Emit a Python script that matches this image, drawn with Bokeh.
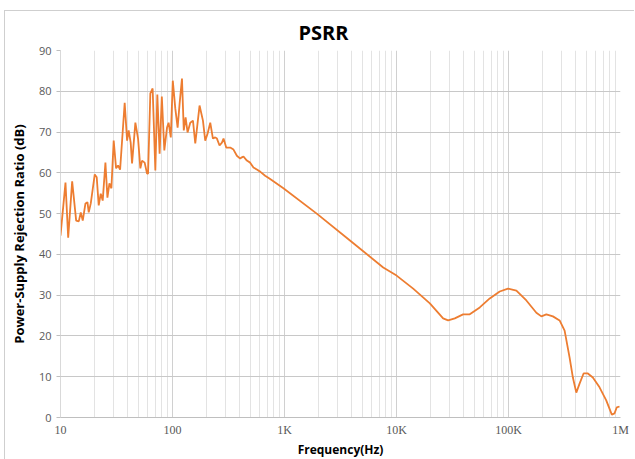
from bokeh.plotting import figure
from bokeh.models import FixedTicker, Range1d, Title
from bokeh.embed import file_html
from bokeh.resources import INLINE

# Frequency (Hz) and PSRR (dB)
freq_hz = [10, 11.08, 11.71, 12.71, 13.80, 14.56, 15.17, 15.80, 16.71, 17.40,
           17.87, 18.63, 20.22, 21.06, 21.94, 22.87, 23.82, 25.18, 26.24, 27.34,
           28.48, 29.85, 31.36, 32.68, 34.05, 37.42, 39.31, 40.62, 42.33, 43.55,
           46.61, 49.27, 51.64, 53.49, 56.41, 59.26, 60.49, 63.41, 66.47, 70.27,
           73.21, 76.74, 80.29, 84.53, 89.34, 92.30, 96.56, 100.6, 105.9, 111.1,
           115.7, 121.5, 126.1, 130.9, 136.3, 144.1, 152.3, 159.7, 174.4, 187.0,
           196.0, 205.5, 217.3, 229.6, 240.7, 249.3, 263.0, 276.3, 285.5, 301.8,
           327.5, 350.4, 375.7, 402.1, 416.3, 430.2, 461.3, 493.6, 528.1, 566.2,
           605.9, 671.6, 733.6, 977.7, 1941, 3843, 7610, 10020, 14090, 19850,
           26080, 28900, 33150, 39320, 45110, 55390, 68000, 83480, 98970, 117600,
           144400, 177300, 196500, 217700, 249300, 286000, 317000, 351200, 375700, 403000,
           431100, 468000, 511100, 566300, 650000, 745800, 836600, 884300, 926800, 979700]
psrr_db = [44.6, 57.6, 44.1, 57.9, 48.3, 48.1, 50.3, 48.3, 52.5, 52.8,
           50.3, 52.5, 59.6, 58.9, 52.0, 54.9, 53.2, 62.5, 53.9, 57.4,
           56.2, 67.9, 61.1, 61.8, 60.8, 77.2, 67.9, 70.4, 67.4, 62.3,
           72.3, 68.4, 61.1, 63.0, 62.5, 59.8, 59.8, 79.5, 80.7, 60.6,
           79.2, 64.7, 78.7, 65.5, 71.1, 72.3, 68.7, 82.6, 75.8, 71.1,
           76.9, 83.1, 70.4, 73.6, 69.9, 72.3, 72.8, 67.2, 76.5, 72.8,
           67.9, 69.6, 72.3, 68.4, 68.7, 68.4, 66.7, 67.4, 68.4, 66.2,
           66.2, 65.7, 64.2, 63.5, 63.8, 64.0, 63.0, 62.5, 61.3, 60.8,
           60.3, 59.3, 58.6, 56.2, 50.0, 43.4, 36.8, 34.8, 31.6, 28.0,
           24.3, 23.8, 24.3, 25.3, 25.3, 27.0, 29.2, 30.9, 31.6, 31.1,
           28.7, 25.7, 24.8, 25.3, 24.8, 23.8, 21.3, 14.7, 9.8, 6.1,
           8.3, 10.8, 10.8, 9.8, 7.4, 4.2, 0.7, 1.0, 2.5, 2.7]

x_major = [10, 100, 1000, 10000, 100000, 1000000]
x_labels = ["10", "100", "1K", "10K", "100K", "1M"]
x_minor = [m * d for d in [10, 100, 1000, 10000, 100000] for m in range(2, 10)]
y_ticks = [0, 10, 20, 30, 40, 50, 60, 70, 80, 90]

p = figure(width=630, height=449, x_axis_type="log",
           output_backend="svg", toolbar_location=None,
           x_range=Range1d(10, 1e6), y_range=Range1d(0, 90),
           min_border_left=55, min_border_right=15,
           min_border_top=39, min_border_bottom=30,
           title=None)
p.styles = {"margin-left": "4px", "margin-top": "10px",
            "border-left": "1px solid #cfcfcf", "border-top": "1px solid #cfcfcf"}

t = Title(text="PSRR", align="left", offset=238,
          text_font="Open Sans", text_font_size="20px",
          text_font_style="bold", text_color="#000000")
p.add_layout(t, "above")

p.line(freq_hz, psrr_db, line_color="#ED7D31", line_width=1.8)

p.outline_line_color = None

p.xaxis.ticker = FixedTicker(ticks=x_major, minor_ticks=x_minor)
p.xaxis.major_label_overrides = {v: l for v, l in zip(x_major, x_labels)}
p.xaxis.major_label_text_font = "Liberation Serif"
p.xaxis.major_label_text_font_size = "12px"
p.xaxis.major_label_text_color = "#595959"
p.xaxis.major_label_standoff = 5
p.xaxis.axis_line_color = "#bfbfbf"
p.xaxis.major_tick_line_color = None
p.xaxis.major_tick_out = 0
p.xaxis.major_tick_in = 0
p.xaxis.minor_tick_line_color = None
p.xaxis.minor_tick_out = 0
p.xaxis.minor_tick_in = 0
p.xaxis.axis_label = "Frequency(Hz)"
p.xaxis.axis_label_text_font = "Open Sans"
p.xaxis.axis_label_text_font_style = "bold"
p.xaxis.axis_label_text_font_size = "12px"
p.xaxis.axis_label_text_color = "#000000"
p.xaxis.axis_label_standoff = 1

p.yaxis.ticker = FixedTicker(ticks=y_ticks)
p.yaxis.major_label_text_font = "Open Sans"
p.yaxis.major_label_text_font_size = "11px"
p.yaxis.major_label_text_color = "#595959"
p.yaxis.axis_line_color = "#d9d9d9"
p.yaxis.major_tick_line_color = "#bfbfbf"
p.yaxis.major_tick_out = 4
p.yaxis.major_tick_in = 0
p.yaxis.minor_tick_line_color = None
p.yaxis.axis_label = "Power-Supply Rejection Ratio (dB)"
p.yaxis.axis_label_text_font = "Open Sans"
p.yaxis.axis_label_text_font_style = "bold"
p.yaxis.axis_label_text_font_size = "13px"
p.yaxis.axis_label_text_color = "#000000"
p.yaxis.axis_label_standoff = 8

p.xgrid.grid_line_color = "#d0d0d0"
p.xgrid.minor_grid_line_color = "#e3e3e3"
p.ygrid.grid_line_color = "#c8c8c8"

open("out.html", "w").write(file_html(p, INLINE))
